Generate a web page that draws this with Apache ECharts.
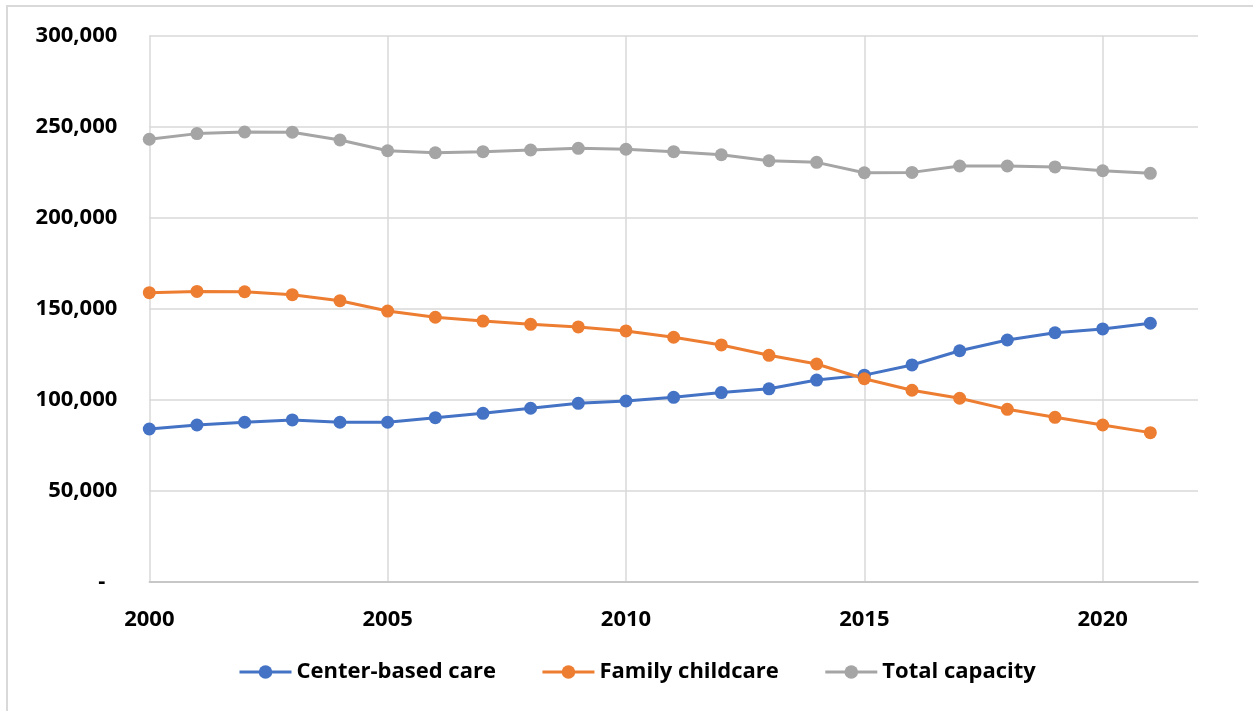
<!DOCTYPE html>
<html>
<head>
<meta charset="utf-8">
<script src="https://cdn.jsdelivr.net/npm/echarts@6/dist/echarts.min.js"></script>
<style>
  html, body { margin: 0; padding: 0; background: #ffffff; }
  #chart { width: 1253px; height: 711px; }
</style>
</head>
<body>
<div id="chart"></div>
<script>
// ---- data ----
const years = [2000, 2001, 2002, 2003, 2004, 2005, 2006, 2007, 2008, 2009, 2010,
               2011, 2012, 2013, 2014, 2015, 2016, 2017, 2018, 2019, 2020, 2021];
const centerBased = [83900, 86100, 87600, 88900, 87600, 87600, 90100, 92500, 95300, 98000, 99300,
                     101300, 103900, 106000, 110800, 113500, 119100, 126900, 132800, 136800, 138900, 142000];
const familyCare = [158800, 159500, 159300, 157700, 154400, 148700, 145300, 143200, 141400, 140000, 137800,
                    134300, 130100, 124400, 119600, 111500, 105200, 100800, 94700, 90300, 86100, 81900];
const totalCapacity = [243100, 246200, 247100, 247000, 242700, 236800, 235700, 236300, 237200, 238100, 237600,
                       236300, 234600, 231300, 230400, 224700, 224900, 228400, 228400, 227900, 225800, 224400];
const seriesNames = ['Center-based care', 'Family childcare', 'Total capacity'];

const FONT = '"Open Sans"';
const FS = 22;
const chart = echarts.init(document.getElementById('chart'), null, { renderer: 'canvas' });

function pairs(vals) { return years.map((y, i) => [y, vals[i]]); }

function lineSeries(name, vals, color) {
  return {
    name: name,
    type: 'line',
    data: pairs(vals),
    symbol: 'circle',
    symbolSize: 13,
    showSymbol: true,
    lineStyle: { width: 3, color: color },
    itemStyle: { color: color },
    emphasis: { disabled: true },
    animation: false
  };
}

chart.setOption({
  backgroundColor: '#ffffff',
  color: ['#4472C4', '#ED7D31', '#A5A5A5'],
  graphic: [{
    type: 'rect',
    shape: { x: 7, y: 6, width: 1300, height: 800 },
    style: { fill: 'none', stroke: '#D9D9D9', lineWidth: 2 },
    silent: true
  }],
  grid: { left: 149.3, right: 55, top: 35.7, bottom: 129.3, containLabel: false },
  xAxis: {
    type: 'value',
    min: 2000,
    max: 2022,
    interval: 5,
    axisLine: { show: true, lineStyle: { color: '#BFBFBF', width: 1.5 } },
    axisTick: { show: false },
    splitLine: { show: true, showMaxLine: false, lineStyle: { color: '#D9D9D9', width: 1.5 } },
    axisLabel: {
      showMaxLabel: false,
      margin: 27,
      color: '#000000',
      fontFamily: FONT,
      fontWeight: 700,
      fontSize: FS,
      formatter: v => String(v)
    }
  },
  yAxis: {
    type: 'value',
    min: 0,
    max: 300000,
    interval: 50000,
    axisLine: { show: false },
    axisTick: { show: false },
    splitLine: { show: true, lineStyle: { color: '#D9D9D9', width: 1.5 } },
    axisLabel: {
      margin: 32,
      color: '#000000',
      fontFamily: FONT,
      fontWeight: 700,
      fontSize: FS,
      formatter: v => v === 0 ? '{d|-}' : v.toLocaleString('en-US'),
      rich: {
        d: { padding: [0, 12, 0, 0], color: '#000000', fontFamily: FONT, fontWeight: 700, fontSize: FS }
      }
    }
  },
  legend: {
    data: seriesNames,
    left: 238,
    top: 661,
    padding: 0,
    itemWidth: 52,
    itemHeight: 17,
    itemGap: 45,
    lineStyle: { width: 3 },
    textStyle: { color: '#000000', fontFamily: FONT, fontWeight: 700, fontSize: FS },
    selectedMode: false
  },
  series: [
    lineSeries(seriesNames[0], centerBased, '#4472C4'),
    lineSeries(seriesNames[1], familyCare, '#ED7D31'),
    lineSeries(seriesNames[2], totalCapacity, '#A5A5A5')
  ],
  animation: false
});
</script>
</body>
</html>
